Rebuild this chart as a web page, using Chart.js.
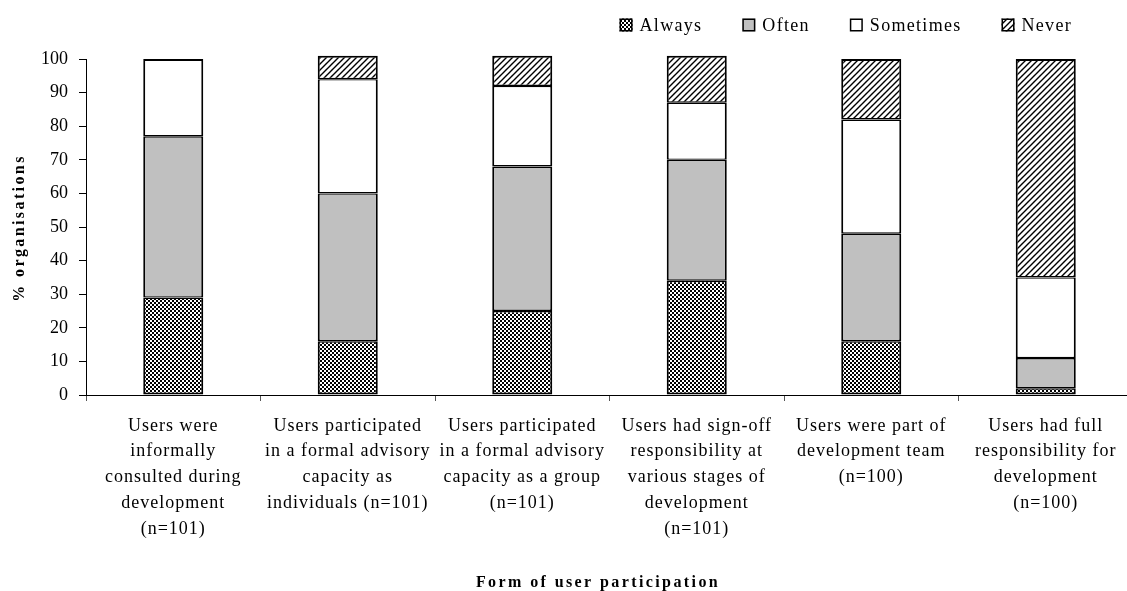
<!DOCTYPE html>
<html>
<head>
<meta charset="utf-8">
<script src="https://cdn.jsdelivr.net/npm/chart.js@4/dist/chart.umd.min.js"></script>
<style>
  html, body { margin: 0; padding: 0; background: #fff; overflow: hidden; }
  #wrap { width: 1127px; height: 591px; overflow: hidden; }
  canvas { display: block; }
</style>
</head>
<body>
<div id="wrap"><canvas id="c" width="1134" height="591"></canvas></div>
<script>
// Forms of participation (category labels, split into lines)
const categories = [
  ['Users were', 'informally', 'consulted during', 'development', '(n=101)'],
  ['Users participated', 'in a formal advisory', 'capacity as', 'individuals (n=101)'],
  ['Users participated', 'in a formal advisory', 'capacity as a group', '(n=101)'],
  ['Users had sign-off', 'responsibility at', 'various stages of', 'development', '(n=101)'],
  ['Users were part of', 'development team', '(n=100)'],
  ['Users had full', 'responsibility for', 'development', '(n=100)']
];

// % of organisations per frequency
const always    = [29, 16, 25, 34, 16, 2];
const often     = [48, 44, 43, 36, 32, 9];
const sometimes = [23, 34, 24, 17, 34, 24];
const never     = [0, 7, 9, 14, 18, 65];

const seriesNames = ['Always', 'Often', 'Sometimes', 'Never'];
const yTicks = [0, 10, 20, 30, 40, 50, 60, 70, 80, 90, 100];
const xTitle = 'Form of user participation';
const yTitle = '% organisations';

const FONT = '"Liberation Serif", "Times New Roman", serif';

const canvas = document.getElementById('c');
const ctx = canvas.getContext('2d');

function checkerPattern() {
  const t = document.createElement('canvas');
  t.width = 4; t.height = 4;
  const g = t.getContext('2d');
  g.fillStyle = '#fff'; g.fillRect(0, 0, 4, 4);
  g.fillStyle = '#000'; g.fillRect(0, 0, 2, 2); g.fillRect(2, 2, 2, 2);
  return ctx.createPattern(t, 'repeat');
}

function hatchPattern() {
  const s = 6;
  const t = document.createElement('canvas');
  t.width = s; t.height = s;
  const g = t.getContext('2d');
  g.fillStyle = '#fff'; g.fillRect(0, 0, s, s);
  g.strokeStyle = '#000'; g.lineWidth = 1.4;
  g.beginPath();
  g.moveTo(-1, s + 1); g.lineTo(s + 1, -1);
  g.moveTo(-1, 1); g.lineTo(1, -1);
  g.moveTo(s - 1, s + 1); g.lineTo(s + 1, s - 1);
  g.stroke();
  return ctx.createPattern(t, 'repeat');
}

const fills = [checkerPattern(), '#c0c0c0', '#ffffff', hatchPattern()];
const seriesData = [always, often, sometimes, never];

// Segments share a dark divider; the top of each stack gets a full 2px edge
function segmentBorder(c) {
  const i = c.dataIndex, d = c.datasetIndex;
  const isTop = !seriesData.slice(d + 1).some(s => s[i] > 0);
  return { top: isTop ? 2 : 1.4, bottom: d === 0 ? 2 : 1.4, left: 2, right: 2 };
}

const datasets = seriesNames.map((name, i) => ({
  label: name,
  data: seriesData[i],
  backgroundColor: fills[i],
  borderColor: '#000',
  borderWidth: segmentBorder,
  borderSkipped: false,
  inflateAmount: 0,
  categoryPercentage: 1,
  barPercentage: 0.344,
  clip: false
}));

// Draw a scale's tick labels with a little extra tracking
function spacedLabels(scale, spacing) {
  if (scale._spacedLabels) return;
  const orig = scale.drawLabels.bind(scale);
  scale.drawLabels = function (area) {
    this.ctx.save();
    this.ctx.letterSpacing = spacing;
    orig(area);
    this.ctx.restore();
  };
  scale._spacedLabels = true;
}

// Legend row and both axis titles drawn on top of the chart
const decorations = {
  id: 'decorations',
  afterDraw(chart) {
    const c = chart.ctx;
    c.save();
    c.font = '18px ' + FONT;
    c.letterSpacing = '1.3px';
    c.textBaseline = 'middle';
    c.fillStyle = '#000';
    const box = 13, gapText = 7, gapItem = 40, rightEdge = 1072, cy = 25;
    const widths = seriesNames.map(n => c.measureText(n).width);
    let x = rightEdge;
    const xs = [];
    for (let i = seriesNames.length - 1; i >= 0; i--) {
      x -= widths[i];
      const tx = x;
      x -= gapText + box;
      xs[i] = { bx: x, tx };
      x -= gapItem;
    }
    seriesNames.forEach((n, i) => {
      const { bx, tx } = xs[i];
      c.fillStyle = fills[i];
      c.fillRect(bx, cy - box / 2, box, box);
      c.strokeStyle = '#000';
      c.lineWidth = 1.5;
      c.strokeRect(bx + 0.75, cy - box / 2 + 0.75, box - 1.5, box - 1.5);
      c.fillStyle = '#000';
      c.textAlign = 'left';
      c.fillText(n, tx, cy + 1);
    });

    c.font = 'bold 16px ' + FONT;
    c.letterSpacing = '2.4px';
    c.textAlign = 'center';
    c.fillText(xTitle, 598, 583);

    c.translate(20, 228);
    c.rotate(-Math.PI / 2);
    c.fillText(yTitle, 0, 0);
    c.restore();
  }
};

new Chart(canvas, {
  type: 'bar',
  data: { labels: categories, datasets },
  plugins: [decorations],
  options: {
    responsive: false,
    animation: false,
    devicePixelRatio: 1,
    layout: { padding: { top: 59, right: 1, left: 0, bottom: 0 } },
    plugins: { legend: { display: false }, tooltip: { enabled: false } },
    scales: {
      x: {
        stacked: true,
        grid: { display: true, drawOnChartArea: false, drawTicks: true, tickLength: 6, color: '#555', offset: true },
        border: { display: true, color: '#000', width: 1 },
        ticks: {
          color: '#000',
          font: { family: FONT, size: 18, lineHeight: 1.43 },
          padding: 12,
          maxRotation: 0,
          autoSkip: false
        },
        afterFit(scale) { scale.height = 196; },
        afterUpdate(scale) { spacedLabels(scale, '1px'); }
      },
      y: {
        stacked: true,
        min: 0,
        max: 100,
        afterBuildTicks(scale) { scale.ticks = yTicks.map(v => ({ value: v })); },
        grid: { display: true, drawOnChartArea: false, drawTicks: true, tickLength: 7, color: '#000' },
        border: { display: true, color: '#000', width: 1 },
        ticks: {
          color: '#000',
          font: { family: FONT, size: 18 },
          padding: 11
        },
        afterFit(scale) { scale.width = 86; }
      }
    }
  }
});
</script>
</body>
</html>
